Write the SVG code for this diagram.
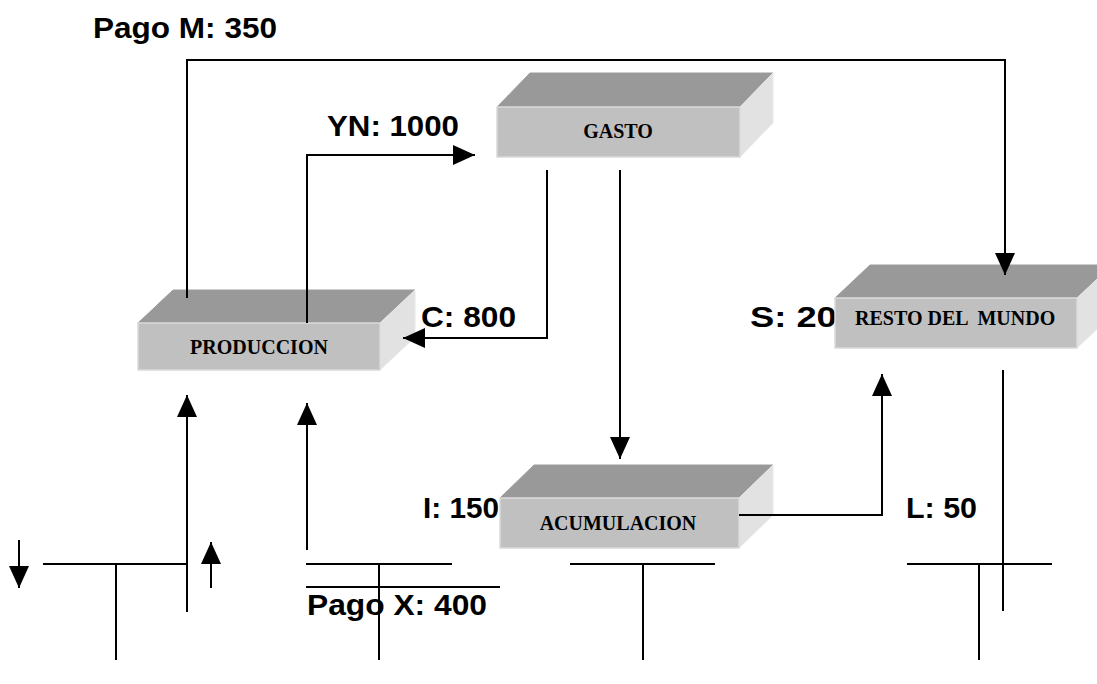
<svg xmlns="http://www.w3.org/2000/svg" width="1097" height="684" viewBox="0 0 1097 684">
<defs>
<style>
.lbl{font-family:"Liberation Sans",Arial,sans-serif;font-weight:bold;font-size:30px;fill:#000}
.bx{font-family:"Liberation Serif","Times New Roman",serif;font-weight:bold;font-size:20px;fill:#000}
.top{fill:#999999;stroke:#9c9c9c;stroke-width:1}
.front{fill:#c0c0c0;stroke:#dadada;stroke-width:1.5}
.side{fill:#e2e2e2;stroke:#e8e8e8;stroke-width:1}
.ln{fill:none;stroke:#000;stroke-width:2}
</style>
<marker id="ah" viewBox="0 0 22 20" refX="22" refY="10" markerWidth="22" markerHeight="20" markerUnits="userSpaceOnUse" orient="auto">
<path d="M0,0 L22,10 L0,20 Z" fill="#000"/>
</marker>
</defs>
<rect width="1097" height="684" fill="#fff"/>
<g id="labels">
<text class="lbl" x="93" y="38" textLength="184" lengthAdjust="spacingAndGlyphs">Pago M: 350</text>
<text class="lbl" x="327" y="136" textLength="132" lengthAdjust="spacingAndGlyphs">YN: 1000</text>
<text class="lbl" x="421" y="327" textLength="95" lengthAdjust="spacingAndGlyphs">C: 800</text>
<text class="lbl" x="750" y="327" textLength="107" lengthAdjust="spacingAndGlyphs">S: 200</text>
<text class="lbl" x="423" y="518" textLength="76" lengthAdjust="spacingAndGlyphs">I: 150</text>
<text class="lbl" x="906" y="518" textLength="71" lengthAdjust="spacingAndGlyphs">L: 50</text>
<text class="lbl" x="307" y="615" textLength="180" lengthAdjust="spacingAndGlyphs">Pago X: 400</text>
</g>
<g id="gasto">
<polygon class="top" points="497,107 530,73 773,73 740,107"/>
<polygon class="side" points="740,107 773,73 773,123 740,157"/>
<rect class="front" x="497" y="107" width="243" height="50"/>
<text class="bx" x="618" y="138" text-anchor="middle">GASTO</text>
</g>
<g id="produccion">
<polygon class="top" points="138,323 173,290 415,290 380,323"/>
<polygon class="side" points="380,323 415,290 415,337 380,370"/>
<rect class="front" x="138" y="323" width="242" height="47"/>
<text class="bx" x="259" y="354" text-anchor="middle">PRODUCCION</text>
</g>
<g id="resto">
<polygon class="top" points="835,298 870,265 1112,265 1077,298"/>
<polygon class="side" points="1077,298 1112,265 1112,315 1077,348"/>
<rect class="front" x="835" y="298" width="242" height="50"/>
<text class="bx" x="855" y="325" xml:space="preserve" style="white-space:pre">RESTO DEL  MUNDO</text>
</g>
<g id="acumulacion">
<polygon class="top" points="500,498 534,465 773,465 739,498"/>
<polygon class="side" points="739,498 773,465 773,515 739,548"/>
<rect class="front" x="500" y="498" width="239" height="50"/>
<text class="bx" x="618" y="530" text-anchor="middle">ACUMULACION</text>
</g>
<g id="connectors">
<polyline class="ln" points="187,298 187,60 1005,60 1005,275" marker-end="url(#ah)"/>
<polyline class="ln" points="307,323 307,155 475,155" marker-end="url(#ah)"/>
<polyline class="ln" points="547,170 547,338 403,338" marker-end="url(#ah)"/>
<line class="ln" x1="620" y1="170" x2="620" y2="459" marker-end="url(#ah)"/>
<polyline class="ln" points="739,515 882,515 882,374" marker-end="url(#ah)"/>
<line class="ln" x1="187" y1="612" x2="187" y2="395" marker-end="url(#ah)"/>
<line class="ln" x1="307" y1="550" x2="307" y2="403" marker-end="url(#ah)"/>
<line class="ln" x1="211" y1="588" x2="211" y2="542" marker-end="url(#ah)"/>
<line class="ln" x1="19" y1="540" x2="19" y2="588" marker-end="url(#ah)"/>
<line class="ln" x1="43" y1="564" x2="187" y2="564"/>
<line class="ln" x1="116" y1="564" x2="116" y2="660"/>
<line class="ln" x1="306" y1="564" x2="452" y2="564"/>
<line class="ln" x1="306" y1="587" x2="500" y2="587"/>
<line class="ln" x1="379" y1="564" x2="379" y2="660"/>
<line class="ln" x1="570" y1="564" x2="715" y2="564"/>
<line class="ln" x1="643" y1="564" x2="643" y2="660"/>
<line class="ln" x1="907" y1="564" x2="1052" y2="564"/>
<line class="ln" x1="979" y1="564" x2="979" y2="660"/>
<line class="ln" x1="1003" y1="370" x2="1003" y2="611"/>
</g>
</svg>
